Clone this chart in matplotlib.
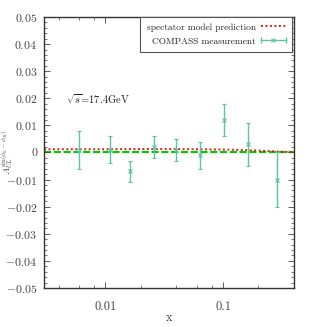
import matplotlib
matplotlib.use('Agg')
import matplotlib.pyplot as plt
from matplotlib.lines import Line2D
from matplotlib.legend_handler import HandlerBase
from matplotlib.ticker import MultipleLocator, FixedLocator, NullFormatter, FixedFormatter, FuncFormatter

plt.rcParams['font.family'] = 'serif'
plt.rcParams['font.serif'] = ['cmr10']
plt.rcParams['mathtext.fontset'] = 'cm'
plt.rcParams['axes.formatter.use_mathtext'] = True

# COMPASS data
x_data = [0.0060, 0.0110, 0.0161, 0.026, 0.040, 0.0633, 0.101, 0.162, 0.287]
y_data = [0.001, 0.001, -0.007, 0.002, 0.001, -0.001, 0.012, 0.003, -0.010]
y_err = [0.007, 0.005, 0.004, 0.004, 0.004, 0.005, 0.006, 0.008, 0.010]

# spectator model curve
x_model = [0.003, 0.01, 0.03, 0.06, 0.1, 0.15, 0.2, 0.3, 0.4]
y_model = [0.0012, 0.0012, 0.0013, 0.0012, 0.0011, 0.0009, 0.0007, 0.0003, 0.0001]

ERR_COLOR = '#5cc4a4'


class HorizErrHandler(HandlerBase):
    # gnuplot-like legend sample: horizontal bar with caps and a cross
    def create_artists(self, legend, orig, xd, yd, w, h, fontsize, trans):
        y = yd + h / 2
        line = Line2D([xd, xd + w], [y, y], color=ERR_COLOR, lw=1.0, transform=trans)
        caps = Line2D([xd, xd + w], [y, y], ls='none', marker='|', ms=5,
                      mew=1.0, color=ERR_COLOR, transform=trans)
        mid = Line2D([xd + w / 2], [y], ls='none', marker='x', ms=3,
                     mew=0.8, color=ERR_COLOR, transform=trans)
        return [line, caps, mid]


fig = plt.figure(figsize=(3.11, 3.27), dpi=100)
ax = fig.add_axes([0.1415, 0.1193, 0.8035, 0.8287])

ax.axhline(0, color='#00cc00', lw=1.6, ls=(0, (3.2, 1.2)), zorder=1)
ax.plot(x_model, y_model, color='#e8141c', lw=1.4, ls=(0, (1, 1.3)),
        label='spectator model prediction', zorder=2)
eb = ax.errorbar(x_data, y_data, yerr=y_err, fmt='x', color=ERR_COLOR, ms=3,
                 mew=0.8, elinewidth=1.0, capsize=1.5, capthick=1.0,
                 label='COMPASS measurement', zorder=3)

ax.set_xscale('log')
ax.set_xlim(0.003, 0.4)
ax.set_ylim(-0.05, 0.05)
ax.yaxis.set_major_locator(MultipleLocator(0.01))
ax.yaxis.set_minor_locator(MultipleLocator(0.002))
ax.xaxis.set_major_locator(FixedLocator([0.01, 0.1]))
ax.xaxis.set_major_formatter(FixedFormatter(['0.01', '0.1']))
ax.xaxis.set_minor_locator(FixedLocator([0.004, 0.006, 0.008, 0.02, 0.04, 0.06, 0.08, 0.2, 0.4]))
ax.xaxis.set_minor_formatter(NullFormatter())
ax.yaxis.set_major_formatter(FuncFormatter(
    lambda v, p: '0' if abs(v) < 1e-9 else '$%g$' % round(v, 3)))

ax.tick_params(which='both', direction='in', top=True, right=True,
               labelsize=9, colors='#444444', labelcolor='#444444')
ax.tick_params(axis='y', which='major', pad=5, labelsize=8.5)
ax.tick_params(axis='x', which='major', pad=9)
ax.tick_params(which='major', length=4, width=0.6)
ax.tick_params(which='minor', length=2, width=0.5)
for s in ax.spines.values():
    s.set_color('#333333')
    s.set_linewidth(1.0)

ax.text(0.0046, 0.0195, r'$\sqrt{s}$=17.4GeV', fontsize=7.5, color='#222222', va='center')
ax.set_xlabel('x', fontsize=9, color='#444444')
ax.xaxis.set_label_coords(0.5, -0.088)
ax.set_ylabel(r'$A_{UL}^{\sin(\phi_h-\phi_R)}$', fontsize=6.8, color='#444444')
ax.yaxis.set_label_coords(-0.118, 0.5)

leg = ax.legend(loc='upper right', bbox_to_anchor=(0.992, 1.0), markerfirst=False,
                fontsize=6.8, frameon=True, fancybox=False, edgecolor='#555555',
                framealpha=1, handlelength=2.6, borderpad=0.65, labelspacing=0.55,
                borderaxespad=0, handletextpad=0.6,
                handler_map={type(eb): HorizErrHandler()})
leg.get_frame().set_linewidth(0.8)
for t in leg.get_texts():
    t.set_ha('right')
    t.set_color('#222222')

fig.savefig('out.png', dpi=100)
